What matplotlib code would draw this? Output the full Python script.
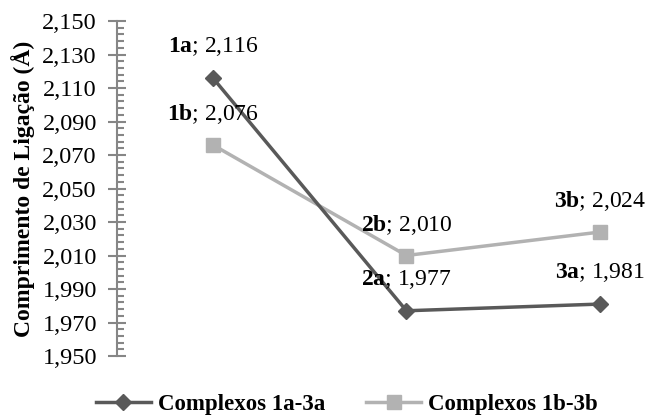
import matplotlib
matplotlib.use("Agg")
import numpy as np
import matplotlib.pyplot as plt
from matplotlib.ticker import FixedLocator, FuncFormatter

plt.rcParams['font.family'] = ['Liberation Serif', 'DejaVu Serif']
plt.rcParams['mathtext.fontset'] = 'custom'
plt.rcParams['mathtext.rm'] = 'Liberation Serif'
plt.rcParams['mathtext.bf'] = 'Liberation Serif:bold'

# Data
positions = [0, 1, 2]
labels_a = ['1a', '2a', '3a']
labels_b = ['1b', '2b', '3b']
values_a = [2.116, 1.977, 1.981]
values_b = [2.076, 2.010, 2.024]
series_names = ['Complexos 1a-3a', 'Complexos 1b-3b']
y_min, y_max, y_step = 1.950, 2.150, 0.020

dark = '#595959'
light = '#B2B2B2'
axis_gray = '#868686'
fs_tick = 17.5
fs_lab = 17
fs_leg = 16.5

fig = plt.figure(figsize=(6.47, 4.19), dpi=100)
ax = fig.add_axes([117 / 647, 1 - 356 / 419, (640 - 117) / 647, (356 - 21) / 419])

ax.plot(positions, values_a, color=dark, lw=2.5, marker='D', ms=8,
        mfc=dark, mec=dark, label=series_names[0], zorder=3)
ax.plot(positions, values_b, color=light, lw=2.5, marker='s', ms=10,
        mfc=light, mec=light, label=series_names[1], zorder=2)

def fmt(v):
    return f"{v:.3f}".replace('.', ',')

for x, name, v in zip(positions, labels_a, values_a):
    ax.annotate(rf'$\mathbf{{{name}}}$; {fmt(v)}', xy=(x, v), xytext=(0, 22.5),
                textcoords='offset points', ha='center', va='center', fontsize=fs_lab)
for x, name, v in zip(positions, labels_b, values_b):
    ax.annotate(rf'$\mathbf{{{name}}}$; {fmt(v)}', xy=(x, v), xytext=(0, 22),
                textcoords='offset points', ha='center', va='center', fontsize=fs_lab)

ax.set_xlim(-0.4955, 2.207)
ax.set_ylim(y_min, y_max)
major = np.round(np.arange(y_min, y_max + 1e-9, y_step), 3)
minor = np.round(np.arange(y_min, y_max + 1e-9, y_step / 5), 4)
ax.yaxis.set_major_locator(FixedLocator(major))
ax.yaxis.set_minor_locator(FixedLocator(minor))
ax.yaxis.set_major_formatter(FuncFormatter(lambda v, p: fmt(v)))
ax.tick_params(axis='y', which='major', direction='inout', length=13, width=1.5,
               color=axis_gray, labelsize=fs_tick, pad=8)
ax.tick_params(axis='y', which='minor', direction='in', length=5, width=1.5,
               color=axis_gray)
ax.set_xticks([])
for s in ['top', 'right', 'bottom']:
    ax.spines[s].set_visible(False)
ax.spines['left'].set_color(axis_gray)
ax.spines['left'].set_linewidth(1.5)

ax.set_ylabel('Comprimento de Ligação (Å)', fontsize=17, fontweight='bold', labelpad=5)

fig.legend(loc='lower center', bbox_to_anchor=(0.536, -0.04), ncol=2, frameon=False,
           prop={'weight': 'bold', 'size': fs_leg}, handlelength=2.4, handletextpad=0.3,
           columnspacing=1.8)

fig.savefig('out.png', dpi=100)
